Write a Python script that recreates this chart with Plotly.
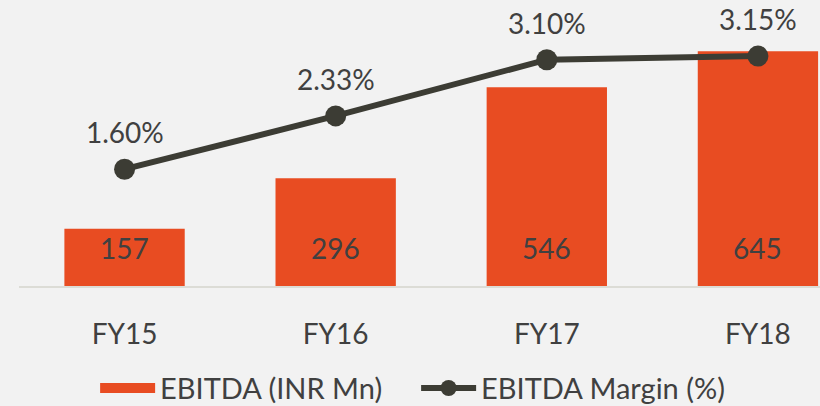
"""EBITDA and EBITDA margin, FY15-FY18."""

import plotly.graph_objects as go

years = ["FY15", "FY16", "FY17", "FY18"]
ebitda = [157, 296, 546, 645]
margin_pct = [1.60, 2.33, 3.10, 3.15]

BAR_COLOR = "#e84c22"
LINE_COLOR = "#3c3c34"
TEXT_COLOR = "#404040"
BG = "#f2f2f2"
FONT = "Lato"

fig = go.Figure()
fig.add_trace(
    go.Bar(
        name="EBITDA (INR Mn)",
        x=years,
        y=ebitda,
        width=0.57,
        marker={"color": BAR_COLOR, "line": {"width": 0}},
        showlegend=False,
    )
)
# legend-only entry so the swatch is a wide block like the source
fig.add_trace(
    go.Scatter(
        name="EBITDA (INR Mn)",
        x=[None],
        y=[None],
        mode="lines",
        line={"color": BAR_COLOR, "width": 17},
    )
)
fig.add_trace(
    go.Scatter(
        name="EBITDA Margin (%)",
        x=years,
        y=margin_pct,
        yaxis="y2",
        mode="lines+markers",
        line={"color": LINE_COLOR, "width": 6},
        marker={"color": LINE_COLOR, "size": 21},
        cliponaxis=False,
    )
)

annotations = []
for yr, val in zip(years, ebitda):
    annotations.append(
        dict(x=yr, y=0, yref="y", text=str(val), showarrow=False,
             yanchor="middle", yshift=38, font={"size": 28, "color": TEXT_COLOR})
    )
for yr, pct in zip(years, margin_pct):
    annotations.append(
        dict(x=yr, y=pct, yref="y2", text=f"{pct:.2f}%", showarrow=False,
             yanchor="middle", yshift=37, font={"size": 28, "color": TEXT_COLOR})
    )

fig.update_layout(
    width=820,
    height=406,
    paper_bgcolor=BG,
    plot_bgcolor=BG,
    font={"family": FONT, "color": TEXT_COLOR, "size": 27},
    margin={"l": 19, "r": 0, "t": 0, "b": 120},
    showlegend=True,
    legend={
        "orientation": "h",
        "xref": "container",
        "yref": "container",
        "x": 0.116,
        "xanchor": "left",
        "y": 0.044,
        "yanchor": "middle",
        "font": {"size": 29, "color": TEXT_COLOR},
        "itemwidth": 55,
        "entrywidth": 251,
        "traceorder": "normal",
        "bgcolor": "rgba(0,0,0,0)",
    },
    xaxis={
        "range": [-0.5, 3.294],
        "showline": True,
        "linecolor": "#dcdcd6",
        "linewidth": 2,
        "showgrid": False,
        "ticks": "",
        "ticklabelstandoff": 22,
        "tickfont": {"size": 28, "color": TEXT_COLOR},
        "fixedrange": True,
    },
    yaxis={"range": [0, 785.7], "visible": False, "showgrid": False},
    yaxis2={"range": [0, 3.918], "overlaying": "y", "visible": False, "showgrid": False},
    annotations=annotations,
)

fig.write_html(
    "out.html",
    config={"displayModeBar": False},
    post_script="document.body.style.margin='0';document.body.style.background='#f2f2f2';",
)
